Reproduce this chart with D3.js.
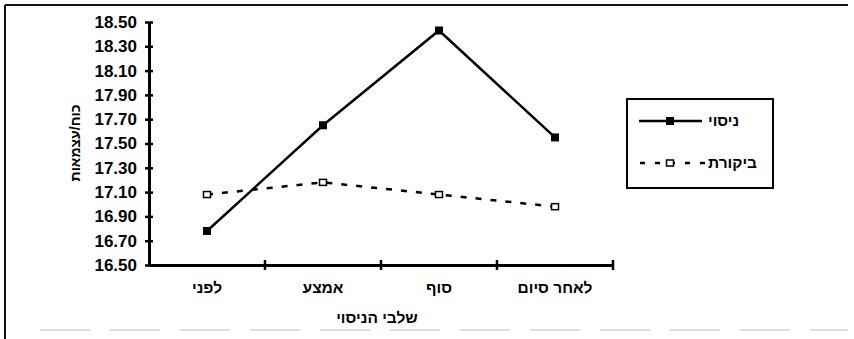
<!doctype html>
<html lang="he">
<head>
<meta charset="UTF-8">
<title>chart</title>
<style>
  body { margin: 0; background: #fff; }
  svg { display: block; font-family: "Liberation Sans", Arial, sans-serif; }
</style>
</head>
<body>
<div class="canvas"></div>
<script src="https://d3js.org/d3.v7.min.js"></script>
<script>
    // stages, right to left in the original, drawn left to right here
    const stages = ['לפני', 'אמצע', 'סוף', 'לאחר סיום'];
    const experiment = [16.78, 17.65, 18.43, 17.55];
    const control = [17.08, 17.18, 17.08, 16.98];
    const yTicks = [16.5, 16.7, 16.9, 17.1, 17.3, 17.5, 17.7, 17.9, 18.1, 18.3, 18.5];

    const width = 854;
    const height = 339;
    const plot = { left: 149, right: 613, top: 22, bottom: 265 };

    const svg = d3.select('.canvas').append('svg')
        .attr('width', width)
        .attr('height', height);

    // frame of the scanned figure
    svg.append('line').attr('x1', 5).attr('x2', 848).attr('y1', 5).attr('y2', 5)
        .attr('stroke', '#111').attr('stroke-width', 2);
    svg.append('line').attr('x1', 5).attr('x2', 5).attr('y1', 5).attr('y2', 339)
        .attr('stroke', '#111').attr('stroke-width', 2);
    svg.append('line').attr('x1', 40).attr('x2', 848).attr('y1', 330).attr('y2', 330)
        .attr('stroke', '#ddd').attr('stroke-width', 2).attr('stroke-dasharray', '50 20');

    const x = d3.scaleBand()
        .domain(stages)
        .range([plot.left, plot.right]);

    const y = d3.scaleLinear()
        .domain([16.5, 18.5])
        .range([plot.bottom, plot.top]);

    // y axis
    const yAxis = d3.axisLeft(y)
        .tickValues(yTicks)
        .tickFormat(d3.format('.2f'))
        .tickSizeInner(4)
        .tickSizeOuter(0)
        .tickPadding(8);
    const yg = svg.append('g')
        .attr('transform', `translate(${plot.left},0)`)
        .call(yAxis);
    yg.select('.domain').attr('stroke', '#000').attr('stroke-width', 3);
    yg.selectAll('.tick line').attr('x2', 4).attr('x1', -4)
        .attr('stroke', '#000').attr('stroke-width', 2.5);
    yg.selectAll('.tick text')
        .attr('fill', '#000')
        .style('font-size', '17px')
        .style('font-weight', 'bold');

    // x axis, ticks at band edges
    const xAxis = d3.axisBottom(x).tickSize(0).tickPadding(17);
    const xg = svg.append('g')
        .attr('transform', `translate(0,${plot.bottom})`)
        .call(xAxis);
    xg.select('.domain').attr('stroke', '#000').attr('stroke-width', 3);
    xg.selectAll('.tick text')
        .attr('fill', '#000')
        .style('font-size', '15.5px')
        .style('font-weight', 'bold');

    const edges = stages.map(s => x(s)).concat([x.range()[1]]).slice(1);
    xg.selectAll('.edge').data(edges).enter().append('line')
        .attr('x1', d => d).attr('x2', d => d)
        .attr('y1', -5).attr('y2', 5)
        .attr('stroke', '#000').attr('stroke-width', 2.5);

    // axis titles
    svg.append('text')
        .attr('x', 377)
        .attr('y', 323)
        .attr('text-anchor', 'middle')
        .style('font-size', '15.5px')
        .style('font-weight', 'bold')
        .text('שלבי הניסוי');

    svg.append('text')
        .attr('transform', 'translate(80,143) rotate(-90)')
        .attr('text-anchor', 'middle')
        .style('font-size', '14px')
        .style('font-weight', 'bold')
        .text('כוח/עצמאות');

    const cx = (d, i) => x(stages[i]) + x.bandwidth() / 2;
    const line = d3.line().x(cx).y(d => y(d));

    // control series: dashed, open squares
    svg.append('path')
        .datum(control)
        .attr('d', line)
        .attr('fill', 'none')
        .attr('stroke', '#000')
        .attr('stroke-width', 2.5)
        .attr('stroke-dasharray', '6 9');
    svg.selectAll('.ctrl').data(control).enter().append('rect')
        .attr('x', (d, i) => cx(d, i) - 3.5)
        .attr('y', d => y(d) - 3)
        .attr('width', 7).attr('height', 6)
        .attr('fill', '#fff').attr('stroke', '#000').attr('stroke-width', 1.5);

    // experiment series: solid, filled squares
    svg.append('path')
        .datum(experiment)
        .attr('d', line)
        .attr('fill', 'none')
        .attr('stroke', '#000')
        .attr('stroke-width', 2.5);
    svg.selectAll('.exp').data(experiment).enter().append('rect')
        .attr('x', (d, i) => cx(d, i) - 4)
        .attr('y', d => y(d) - 4)
        .attr('width', 8).attr('height', 8)
        .attr('fill', '#000');

    // legend
    const lg = svg.append('g');
    lg.append('rect')
        .attr('x', 627).attr('y', 99).attr('width', 146).attr('height', 89)
        .attr('fill', 'none').attr('stroke', '#000').attr('stroke-width', 2);
    lg.append('line').attr('x1', 639).attr('x2', 702).attr('y1', 121).attr('y2', 121)
        .attr('stroke', '#000').attr('stroke-width', 2.5);
    lg.append('rect').attr('x', 666).attr('y', 117).attr('width', 8).attr('height', 8)
        .attr('fill', '#000');
    lg.append('text').attr('x', 708).attr('y', 126).attr('text-anchor', 'start')
        .style('font-size', '15.5px').style('font-weight', 'bold').text('ניסוי');

    lg.append('line').attr('x1', 640).attr('x2', 706).attr('y1', 163).attr('y2', 163)
        .attr('stroke', '#000').attr('stroke-width', 2.5)
        .attr('stroke-dasharray', '5 10');
    lg.append('rect').attr('x', 666.5).attr('y', 160).attr('width', 7).attr('height', 6)
        .attr('fill', '#fff').attr('stroke', '#000').attr('stroke-width', 1.5);
    lg.append('text').attr('x', 708).attr('y', 168).attr('text-anchor', 'start')
        .style('font-size', '15.5px').style('font-weight', 'bold').text('ביקורת');
</script>
</body>
</html>
